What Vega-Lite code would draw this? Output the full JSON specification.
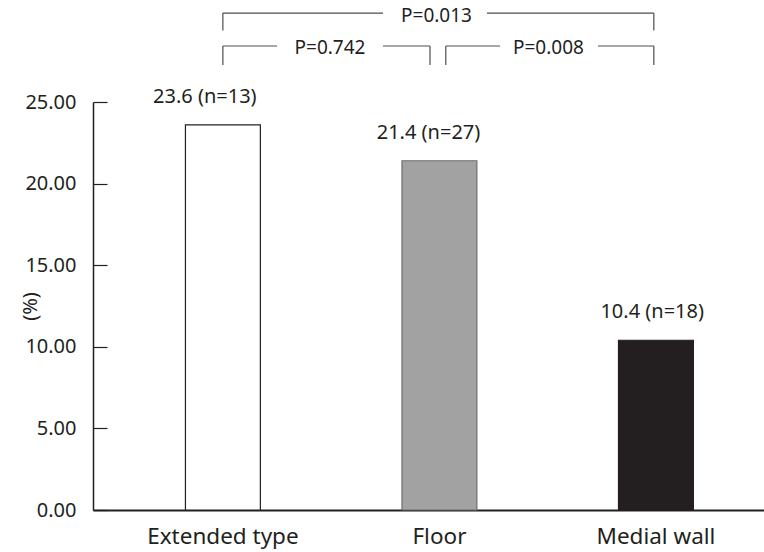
{
  "$schema": "https://vega.github.io/schema/vega-lite/v6.json",
  "width": 671,
  "height": 408,
  "autosize": "none",
  "padding": {"left": 93, "top": 102, "right": 0, "bottom": 42},
  "background": "white",
  "config": {"view": {"stroke": null}, "font": "Noto Sans"},
  "datasets": {
    "bars": [
      {"type": "Extended type", "pct": 23.6, "label": "23.6 (n=13)"},
      {"type": "Floor", "pct": 21.4, "label": "21.4 (n=27)"},
      {"type": "Medial wall", "pct": 10.4, "label": "10.4 (n=18)"}
    ],
    "segs": [
      {"px": 1.0, "px2": 1.74, "pct": 30.45, "pct2": 30.45},
      {"px": 2.22, "px2": 2.991, "pct": 30.45, "pct2": 30.45},
      {"px": 1.0, "px2": 1.0, "pct": 30.45, "pct2": 29.38},
      {"px": 2.991, "px2": 2.991, "pct": 30.45, "pct2": 29.38},
      {"px": 1.0, "px2": 1.25, "pct": 28.43, "pct2": 28.43},
      {"px": 1.74, "px2": 1.957, "pct": 28.43, "pct2": 28.43},
      {"px": 1.0, "px2": 1.0, "pct": 28.43, "pct2": 27.27},
      {"px": 1.957, "px2": 1.957, "pct": 28.43, "pct2": 27.27},
      {"px": 2.03, "px2": 2.28, "pct": 28.43, "pct2": 28.43},
      {"px": 2.733, "px2": 2.991, "pct": 28.43, "pct2": 28.43},
      {"px": 2.03, "px2": 2.03, "pct": 28.43, "pct2": 27.27},
      {"px": 2.991, "px2": 2.991, "pct": 28.43, "pct2": 27.27}
    ],
    "plabels": [
      {"px": 1.987, "pct": 30.3, "label": "P=0.013"},
      {"px": 1.495, "pct": 28.3, "label": "P=0.742"},
      {"px": 2.504, "pct": 28.3, "label": "P=0.008"}
    ]
  },
  "layer": [
    {
      "data": {"name": "bars"},
      "mark": {"type": "bar", "strokeWidth": 1.2},
      "encoding": {
        "x": {
          "field": "type", "type": "nominal", "sort": null,
          "scale": {"paddingInner": 0.654, "paddingOuter": 0.3765, "align": 0.567},
          "axis": {"title": null, "labelAngle": 0, "ticks": false, "domainColor": "#231f20", "domainWidth": 2, "labelFontSize": 22.5, "labelColor": "#231f20", "labelPadding": 15}
        },
        "y": {
          "field": "pct", "type": "quantitative",
          "scale": {"domain": [0, 25], "nice": false, "zero": true},
          "axis": {
            "values": [0, 5, 10, 15, 20, 25], "format": ".2f", "grid": false,
            "tickSize": -14, "tickColor": "#231f20", "tickWidth": 1.2,
            "domainColor": "#231f20", "domainWidth": 1.5,
            "labelFontSize": 20, "labelColor": "#231f20", "labelPadding": 31,
            "title": "(%)", "titleFontSize": 20, "titleFontWeight": "normal", "titleColor": "#231f20",
            "titleX": -63, "titleY": 204, "titleAngle": -90, "titleAlign": "center", "titleBaseline": "middle"
          }
        },
        "fill": {"field": "type", "type": "nominal", "scale": {"domain": ["Extended type", "Floor", "Medial wall"], "range": ["#ffffff", "#a1a2a1", "#231f20"]}, "legend": null},
        "stroke": {"field": "type", "type": "nominal", "scale": {"domain": ["Extended type", "Floor", "Medial wall"], "range": ["#231f20", "#6e6e6e", "#231f20"]}, "legend": null}
      }
    },
    {
      "data": {"name": "bars"},
      "mark": {"type": "text", "baseline": "bottom", "dy": -18, "fontSize": 20, "color": "#231f20"},
      "encoding": {
        "x": {"field": "type", "type": "nominal", "sort": null, "axis": null},
        "y": {"field": "pct", "type": "quantitative"},
        "text": {"field": "label"}
      }
    },
    {
      "data": {"name": "segs"},
      "mark": {"type": "rule", "color": "#4d4d4d", "strokeWidth": 1.2},
      "encoding": {
        "x": {"field": "px", "type": "quantitative", "scale": {"domain": [0.4, 3.5], "nice": false, "zero": false}, "axis": null},
        "x2": {"field": "px2"},
        "y": {"field": "pct", "type": "quantitative"},
        "y2": {"field": "pct2"}
      }
    },
    {
      "data": {"name": "plabels"},
      "mark": {"type": "text", "baseline": "middle", "align": "center", "fontSize": 19, "color": "#231f20"},
      "encoding": {
        "x": {"field": "px", "type": "quantitative", "scale": {"domain": [0.4, 3.5], "nice": false, "zero": false}, "axis": null},
        "y": {"field": "pct", "type": "quantitative"},
        "text": {"field": "label"}
      }
    }
  ],
  "resolve": {"scale": {"x": "independent"}, "axis": {"x": "independent"}}
}
